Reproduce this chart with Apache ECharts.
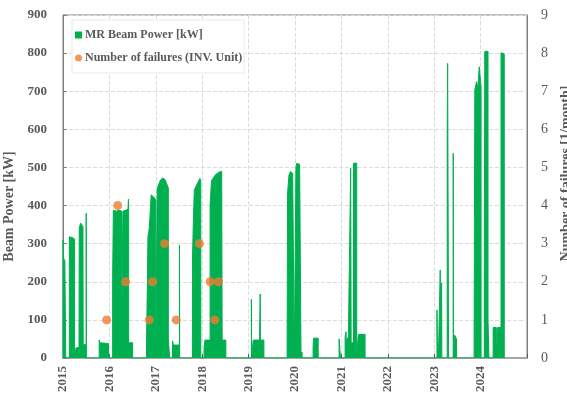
<!DOCTYPE html>
<html><head><meta charset="utf-8">
<script src="https://cdn.jsdelivr.net/npm/echarts@6/dist/echarts.min.js"></script>
<style>html,body{margin:0;padding:0;background:#fff}#c{width:567px;height:400px}</style>
</head><body><div id="c"></div>
<script>
// Beam power samples: [decimal year, kW] (zeros mark beam-off gaps)
const beamPower = [
 [2015.000,0],[2015.000,310],[2015.005,300],[2015.010,262],[2015.040,255],[2015.060,250],[2015.060,0],
 [2015.136,0],[2015.136,318],[2015.160,320],[2015.200,316],[2015.250,312],[2015.250,0],
 [2015.280,0],[2015.280,26],[2015.345,28],[2015.350,341],[2015.380,354],[2015.400,358],[2015.420,350],[2015.430,345],[2015.435,34],[2015.500,36],[2015.500,380],[2015.505,380],[2015.505,0],
 [2015.780,0],[2015.780,47],[2015.790,40],[2015.980,38],[2015.980,0],
 [2015.990,0],[2015.990,10],[2016.000,10],[2016.000,0],
 [2016.070,0],[2016.070,213],[2016.085,388],[2016.150,385],[2016.200,388],[2016.260,386],[2016.260,0],
 [2016.290,0],[2016.290,385],[2016.350,388],[2016.400,390],[2016.410,417],[2016.415,388],[2016.415,40],[2016.500,40],[2016.500,0],
 [2016.800,0],[2016.800,48],[2016.820,205],[2016.830,318],[2016.860,341],[2016.900,428],[2016.950,423],[2017.000,415],[2017.000,0],
 [2017.030,0],[2017.030,445],[2017.060,454],[2017.100,467],[2017.150,472],[2017.200,468],[2017.270,446],[2017.270,47],[2017.300,47],[2017.300,0],
 [2017.360,0],[2017.360,45],[2017.380,34],[2017.510,34],[2017.510,296],[2017.515,296],[2017.515,0],
 [2017.790,0],[2017.790,257],[2017.810,362],[2017.830,441],[2017.870,440],[2017.900,459],[2017.950,471],[2017.970,465],[2017.970,0],
 [2018.040,0],[2018.040,27],[2018.060,47],[2018.170,47],[2018.170,400],[2018.200,465],[2018.280,480],[2018.350,487],[2018.420,490],[2018.430,485],[2018.430,47],[2018.510,47],[2018.510,0],
 [2019.060,0],[2019.060,154],[2019.065,0],
 [2019.100,0],[2019.100,47],[2019.230,47],[2019.230,0],
 [2019.250,0],[2019.250,168],[2019.255,47],[2019.330,47],[2019.330,0],
 [2019.830,0],[2019.830,40],[2019.840,432],[2019.870,480],[2019.900,489],[2019.950,485],[2019.985,480],[2019.985,0],
 [2020.020,0],[2020.020,500],[2020.040,511],[2020.100,508],[2020.130,506],[2020.130,0],
 [2020.150,0],[2020.150,16],[2020.155,0],
 [2020.390,0],[2020.390,30],[2020.400,52],[2020.500,52],[2020.500,0],
 [2020.950,0],[2020.950,50],[2020.980,50],[2020.980,0],
 [2021.080,0],[2021.080,55],[2021.100,69],[2021.105,45],[2021.150,55],[2021.190,55],[2021.200,498],[2021.210,498],[2021.210,40],[2021.260,40],[2021.260,511],[2021.330,511],[2021.330,0],
 [2021.360,0],[2021.360,55],[2021.370,62],[2021.510,62],[2021.510,0],
 [2023.060,0],[2023.060,126],[2023.065,47],[2023.090,47],[2023.090,0],
 [2023.130,0],[2023.130,231],[2023.140,100],[2023.150,163],[2023.160,197],[2023.165,0],
 [2023.280,0],[2023.280,590],[2023.290,773],[2023.310,770],[2023.310,0],
 [2023.410,0],[2023.410,537],[2023.415,0],
 [2023.440,0],[2023.440,60],[2023.480,50],[2023.480,0],
 [2023.860,0],[2023.860,47],[2023.875,703],[2023.910,725],[2023.940,708],[2023.960,712],[2023.970,764],[2023.990,760],[2024.010,712],[2024.010,0],
 [2024.080,0],[2024.080,226],[2024.090,804],[2024.160,805],[2024.160,100],[2024.180,100],[2024.180,0],
 [2024.270,0],[2024.270,80],[2024.340,80],[2024.340,0],
 [2024.370,0],[2024.370,80],[2024.440,80],[2024.440,801],[2024.510,798],[2024.510,0]
];
// Failures per month (INV. unit)
const failDates  = [2015.94, 2016.18, 2016.35, 2016.86, 2016.93, 2017.19, 2017.44, 2017.94, 2018.17, 2018.27, 2018.35];
const failCounts = [1, 4, 2, 1, 2, 3, 1, 3, 2, 1, 2];
const yearTicks  = [2015, 2016, 2017, 2018, 2019, 2020, 2021, 2022, 2023, 2024];
const powerTicks = [0, 100, 200, 300, 400, 500, 600, 700, 800, 900];
const failTicks  = [0, 1, 2, 3, 4, 5, 6, 7, 8, 9];

const serif = "'Liberation Serif','Times New Roman',serif";
const grey = '#595959';
const chart = echarts.init(document.getElementById('c'), null, {renderer: 'canvas'});
chart.setOption({
  animation: false,
  grid: {left: 63, right: 40, top: 15, bottom: 42, show: true, borderColor: '#7f7f7f', borderWidth: 1,
         containLabel: false, outerBoundsMode: 'none'},
  legend: {
    orient: 'vertical', left: 72, top: 20,
    backgroundColor: '#fff', borderColor: '#e8e8e8', borderWidth: 1,
    padding: [9, 2, 9, 3], itemGap: 11, itemWidth: 7, itemHeight: 7,
    textStyle: {fontFamily: serif, fontWeight: 'bold', fontSize: 12, color: grey, padding: [0, 0, 0, -2]},
    data: [{name: 'MR Beam Power [kW]', icon: 'rect'}, {name: 'Number of failures (INV. Unit)', icon: 'circle'}]
  },
  xAxis: {
    type: 'value', min: yearTicks[0], max: yearTicks[yearTicks.length - 1] + 1, interval: 1,
    name: 'Date', nameLocation: 'middle', nameGap: 37,
    nameTextStyle: {fontFamily: serif, fontWeight: 'bold', fontSize: 14, color: grey},
    axisLine: {lineStyle: {color: '#a6a6a6', width: 2}},
    axisTick: {inside: true, length: 4, lineStyle: {color: '#595959'}},
    axisLabel: {rotate: 90, margin: 8, fontFamily: serif, fontWeight: 'bold', fontSize: 13, color: grey,
      formatter: v => yearTicks.indexOf(Math.round(v)) >= 0 ? String(Math.round(v)) : ''},
    splitLine: {show: true, lineStyle: {type: 'dashed', color: '#dcdcdc'}}
  },
  yAxis: [{
    type: 'value', min: powerTicks[0], max: powerTicks[powerTicks.length - 1], interval: 100,
    name: 'Beam Power [kW]', nameLocation: 'middle', nameGap: 40,
    nameTextStyle: {fontFamily: serif, fontWeight: 'bold', fontSize: 14, color: grey, padding: [0, 40, 0, 0]},
    axisLine: {show: true, lineStyle: {color: '#7f7f7f'}},
    axisTick: {show: true, inside: true, length: 4, lineStyle: {color: '#7f7f7f'}},
    axisLabel: {margin: 16, fontFamily: serif, fontWeight: 'bold', fontSize: 13, color: grey},
    splitLine: {show: true, lineStyle: {type: 'dashed', color: '#dcdcdc'}}
  }, {
    type: 'value', min: failTicks[0], max: failTicks[failTicks.length - 1], interval: 1,
    name: 'Number of failures [1/month]', nameLocation: 'middle', nameGap: 31,
    nameTextStyle: {fontFamily: serif, fontWeight: 'bold', fontSize: 14, color: grey, padding: [0, 0, 0, 26]},
    axisLine: {show: true, lineStyle: {color: '#7f7f7f'}},
    axisTick: {show: false},
    axisLabel: {margin: 14, fontFamily: serif, fontSize: 14, color: grey},
    splitLine: {show: false}
  }],
  series: [{
    name: 'MR Beam Power [kW]', type: 'line', data: beamPower, yAxisIndex: 0,
    showSymbol: false, symbol: 'none', sampling: null,
    lineStyle: {color: '#00B050', width: 1}, itemStyle: {color: '#00B050'},
    areaStyle: {color: '#00B050', opacity: 1}
  }, {
    name: 'Number of failures (INV. Unit)', type: 'scatter', yAxisIndex: 1,
    data: failDates.map((d, i) => [d, failCounts[i]]),
    symbolSize: 9, itemStyle: {color: '#ED7D31'}, z: 5
  }]
});
</script></body></html>
